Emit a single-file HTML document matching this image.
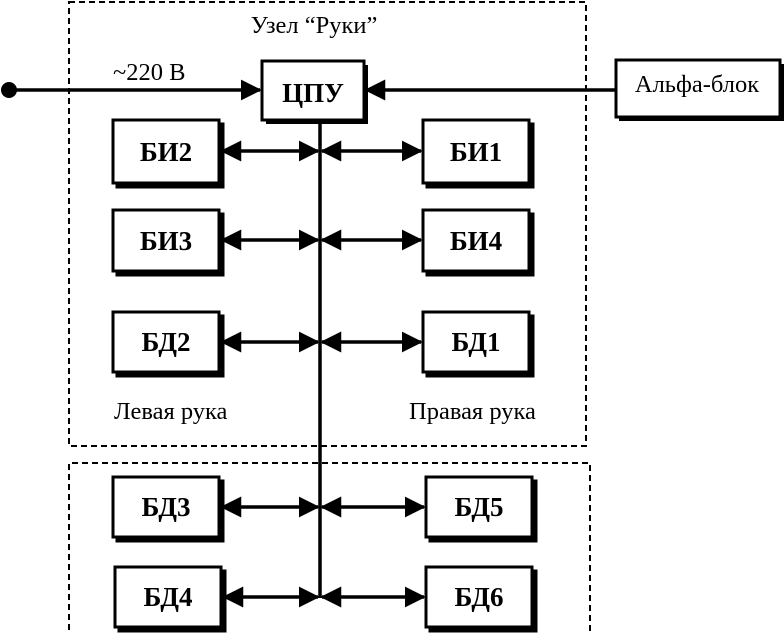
<!DOCTYPE html>
<html><head><meta charset="utf-8"><style>
html,body{margin:0;padding:0;background:#fff;}
svg{display:block;}
text{font-family:"Liberation Serif",serif;fill:#000;}
.b{font-weight:bold;font-size:27px;}
.n{font-size:24.5px;}
</style></head><body>
<svg width="784" height="633" viewBox="0 0 784 633" xmlns="http://www.w3.org/2000/svg">
<defs>
<marker id="a" markerWidth="6" markerHeight="6" refX="5.5" refY="3" orient="auto" markerUnits="strokeWidth">
<path d="M0,0 L6,3 L0,6 z" fill="#000"/></marker>
<marker id="s" markerWidth="6" markerHeight="6" refX="0.5" refY="3" orient="auto" markerUnits="strokeWidth">
<path d="M6,0 L0,3 L6,6 z" fill="#000"/></marker>
</defs>
<g fill="none" stroke="#000" stroke-width="2" stroke-dasharray="6,4">
<rect x="69" y="2" width="517" height="444"/>
<path d="M69,640 V463 H590 V640"/>
</g>
<text class="n" x="314" y="33" text-anchor="middle">Узел “Руки”</text>
<text class="n" x="113" y="80">~220 В</text>
<circle cx="9" cy="90" r="8" fill="#000"/>
<g stroke="#000" stroke-width="3.5" fill="none">
<line x1="9" y1="90" x2="260" y2="90" marker-end="url(#a)"/>
<line x1="615" y1="90" x2="366" y2="90" marker-end="url(#a)"/>
<line x1="320" y1="120" x2="320" y2="598"/>
</g>
<g fill="#000">
<rect x="266" y="65" width="102" height="59"/>
<rect x="619" y="64" width="165" height="57"/>
</g>
<rect x="262" y="61" width="102" height="59" fill="#fff" stroke="#000" stroke-width="3"/>
<rect x="616" y="60" width="164" height="57" fill="#fff" stroke="#000" stroke-width="3"/>
<text class="b" x="313" y="102" text-anchor="middle">ЦПУ</text>
<text class="n" x="697" y="92" text-anchor="middle">Альфа-блок</text>
<g stroke="#000" stroke-width="3">
<g fill="#000">
<rect x="117" y="124" width="106" height="63"/><rect x="427" y="124" width="106" height="63"/>
<rect x="117" y="214" width="106" height="61"/><rect x="427" y="214" width="106" height="61"/>
<rect x="117" y="316" width="106" height="60"/><rect x="427" y="316" width="106" height="60"/>
<rect x="117" y="481" width="106" height="60"/><rect x="430" y="481" width="106" height="60"/>
<rect x="119" y="571" width="106" height="60"/><rect x="430" y="571" width="106" height="60"/>
</g>
<g fill="#fff">
<rect x="113" y="120" width="106" height="63"/><rect x="423" y="120" width="106" height="63"/>
<rect x="113" y="210" width="106" height="61"/><rect x="423" y="210" width="106" height="61"/>
<rect x="113" y="312" width="106" height="60"/><rect x="423" y="312" width="106" height="60"/>
<rect x="113" y="477" width="106" height="60"/><rect x="426" y="477" width="106" height="60"/>
<rect x="115" y="567" width="106" height="60"/><rect x="426" y="567" width="106" height="60"/>
</g>
</g>
<g stroke="#000" stroke-width="3.5" fill="none">
<line x1="222" y1="151" x2="318" y2="151" marker-start="url(#s)" marker-end="url(#a)"/>
<line x1="322" y1="151" x2="421" y2="151" marker-start="url(#s)" marker-end="url(#a)"/>
<line x1="222" y1="240" x2="318" y2="240" marker-start="url(#s)" marker-end="url(#a)"/>
<line x1="322" y1="240" x2="421" y2="240" marker-start="url(#s)" marker-end="url(#a)"/>
<line x1="222" y1="342" x2="318" y2="342" marker-start="url(#s)" marker-end="url(#a)"/>
<line x1="322" y1="342" x2="421" y2="342" marker-start="url(#s)" marker-end="url(#a)"/>
<line x1="222" y1="507" x2="318" y2="507" marker-start="url(#s)" marker-end="url(#a)"/>
<line x1="322" y1="507" x2="424" y2="507" marker-start="url(#s)" marker-end="url(#a)"/>
<line x1="224" y1="597" x2="318" y2="597" marker-start="url(#s)" marker-end="url(#a)"/>
<line x1="322" y1="597" x2="424" y2="597" marker-start="url(#s)" marker-end="url(#a)"/>
</g>
<g text-anchor="middle">
<text class="b" x="166" y="161">БИ2</text><text class="b" x="476" y="161">БИ1</text>
<text class="b" x="166" y="250">БИ3</text><text class="b" x="476" y="250">БИ4</text>
<text class="b" x="166" y="351">БД2</text><text class="b" x="476" y="351">БД1</text>
<text class="b" x="166" y="516">БД3</text><text class="b" x="479" y="516">БД5</text>
<text class="b" x="168" y="606">БД4</text><text class="b" x="479" y="606">БД6</text>
</g>
<text class="n" x="114" y="419">Левая рука</text>
<text class="n" x="409" y="419">Правая рука</text>
</svg>
</body></html>
